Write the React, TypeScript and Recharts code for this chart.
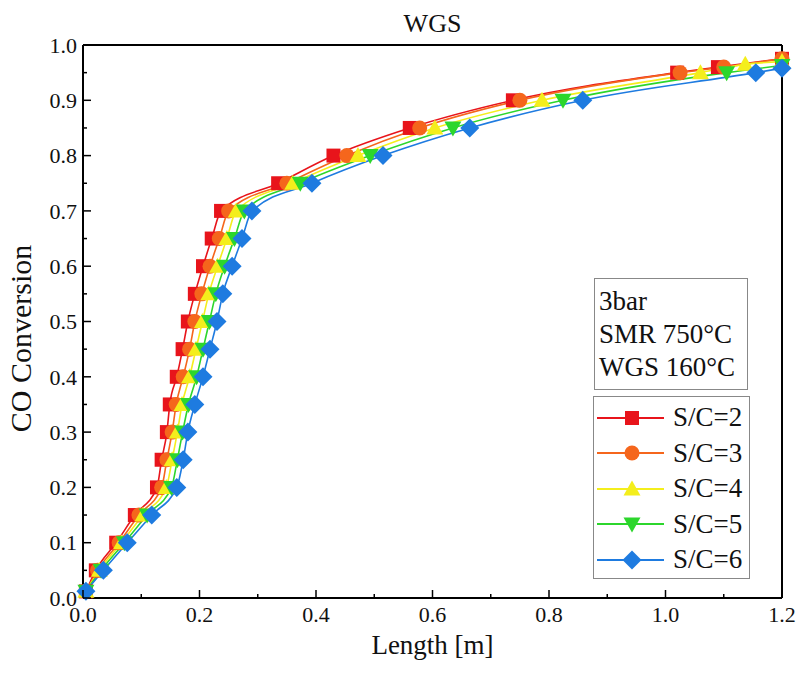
import React from 'react';
import { LineChart, Line, XAxis, YAxis } from 'recharts';

// CO conversion vs reactor length
const SC2 = [
  { x: 0.005, y: 0.012 }, { x: 0.022, y: 0.05 }, { x: 0.057, y: 0.1 }, { x: 0.089, y: 0.15 },
  { x: 0.127, y: 0.2 }, { x: 0.135, y: 0.25 }, { x: 0.144, y: 0.3 }, { x: 0.149, y: 0.35 },
  { x: 0.161, y: 0.4 }, { x: 0.171, y: 0.45 }, { x: 0.18, y: 0.5 }, { x: 0.192, y: 0.55 },
  { x: 0.206, y: 0.6 }, { x: 0.221, y: 0.65 }, { x: 0.237, y: 0.7 }, { x: 0.335, y: 0.75 },
  { x: 0.43, y: 0.8 }, { x: 0.561, y: 0.85 }, { x: 0.738, y: 0.9 }, { x: 1.02, y: 0.95 },
  { x: 1.09, y: 0.96 }, { x: 1.2, y: 0.975 },
];
const SC3 = [
  { x: 0.005, y: 0.012 }, { x: 0.025, y: 0.05 }, { x: 0.062, y: 0.1 }, { x: 0.096, y: 0.15 },
  { x: 0.135, y: 0.2 }, { x: 0.144, y: 0.25 }, { x: 0.153, y: 0.3 }, { x: 0.16, y: 0.35 },
  { x: 0.172, y: 0.4 }, { x: 0.183, y: 0.45 }, { x: 0.192, y: 0.5 }, { x: 0.204, y: 0.55 },
  { x: 0.218, y: 0.6 }, { x: 0.234, y: 0.65 }, { x: 0.25, y: 0.7 }, { x: 0.35, y: 0.75 },
  { x: 0.453, y: 0.8 }, { x: 0.578, y: 0.85 }, { x: 0.75, y: 0.9 }, { x: 1.025, y: 0.95 },
  { x: 1.1, y: 0.96 }, { x: 1.2, y: 0.975 },
];
const SC4 = [
  { x: 0.005, y: 0.012 }, { x: 0.028, y: 0.05 }, { x: 0.066, y: 0.1 }, { x: 0.103, y: 0.15 },
  { x: 0.143, y: 0.2 }, { x: 0.153, y: 0.25 }, { x: 0.162, y: 0.3 }, { x: 0.17, y: 0.35 },
  { x: 0.183, y: 0.4 }, { x: 0.194, y: 0.45 }, { x: 0.205, y: 0.5 }, { x: 0.216, y: 0.55 },
  { x: 0.231, y: 0.6 }, { x: 0.247, y: 0.65 }, { x: 0.263, y: 0.7 }, { x: 0.36, y: 0.75 },
  { x: 0.472, y: 0.8 }, { x: 0.604, y: 0.85 }, { x: 0.788, y: 0.9 }, { x: 1.06, y: 0.95 },
  { x: 1.137, y: 0.965 }, { x: 1.2, y: 0.97 },
];
const SC5 = [
  { x: 0.005, y: 0.012 }, { x: 0.031, y: 0.05 }, { x: 0.071, y: 0.1 }, { x: 0.11, y: 0.15 },
  { x: 0.152, y: 0.2 }, { x: 0.162, y: 0.25 }, { x: 0.171, y: 0.3 }, { x: 0.181, y: 0.35 },
  { x: 0.195, y: 0.4 }, { x: 0.206, y: 0.45 }, { x: 0.217, y: 0.5 }, { x: 0.228, y: 0.55 },
  { x: 0.243, y: 0.6 }, { x: 0.26, y: 0.65 }, { x: 0.277, y: 0.7 }, { x: 0.373, y: 0.75 },
  { x: 0.493, y: 0.8 }, { x: 0.635, y: 0.85 }, { x: 0.824, y: 0.9 }, { x: 1.105, y: 0.95 },
  { x: 1.2, y: 0.963 },
];
const SC6 = [
  { x: 0.005, y: 0.012 }, { x: 0.035, y: 0.05 }, { x: 0.076, y: 0.1 }, { x: 0.118, y: 0.15 },
  { x: 0.161, y: 0.2 }, { x: 0.172, y: 0.25 }, { x: 0.18, y: 0.3 }, { x: 0.192, y: 0.35 },
  { x: 0.206, y: 0.4 }, { x: 0.218, y: 0.45 }, { x: 0.23, y: 0.5 }, { x: 0.24, y: 0.55 },
  { x: 0.256, y: 0.6 }, { x: 0.273, y: 0.65 }, { x: 0.29, y: 0.7 }, { x: 0.393, y: 0.75 },
  { x: 0.515, y: 0.8 }, { x: 0.664, y: 0.85 }, { x: 0.858, y: 0.9 }, { x: 1.155, y: 0.95 },
  { x: 1.2, y: 0.958 },
];

const X_TICKS = [0, 0.1, 0.2, 0.3, 0.4, 0.5, 0.6, 0.7, 0.8, 0.9, 1.0, 1.1, 1.2];
const Y_TICKS = [
  0, 0.05, 0.1, 0.15, 0.2, 0.25, 0.3, 0.35, 0.4, 0.45, 0.5,
  0.55, 0.6, 0.65, 0.7, 0.75, 0.8, 0.85, 0.9, 0.95, 1.0,
];
const CONDITIONS = ['3bar', 'SMR 750°C', 'WGS 160°C'];

const SERIES = [
  { name: 'S/C=2', data: SC2, color: '#e8141b', shape: 'square' },
  { name: 'S/C=3', data: SC3, color: '#f5661c', shape: 'circle' },
  { name: 'S/C=4', data: SC4, color: '#f4ee1c', shape: 'triangle' },
  { name: 'S/C=5', data: SC5, color: '#2cd62c', shape: 'triangleDown' },
  { name: 'S/C=6', data: SC6, color: '#1e7be0', shape: 'diamond' },
];

const FONT = "'Liberation Serif', 'Times New Roman', serif";

const Marker = ({ cx, cy, shape, color }: any) => {
  if (cx == null || cy == null) return null;
  switch (shape) {
    case 'square':
      return <rect x={cx - 7} y={cy - 7} width={14} height={14} fill={color} />;
    case 'circle':
      return <circle cx={cx} cy={cy} r={7.5} fill={color} />;
    case 'triangle':
      return <polygon points={`${cx},${cy - 8.5} ${cx + 8.5},${cy + 6.5} ${cx - 8.5},${cy + 6.5}`} fill={color} />;
    case 'triangleDown':
      return <polygon points={`${cx},${cy + 8.5} ${cx + 8.5},${cy - 6.5} ${cx - 8.5},${cy - 6.5}`} fill={color} />;
    default:
      return <polygon points={`${cx},${cy - 9.5} ${cx + 9.5},${cy} ${cx},${cy + 9.5} ${cx - 9.5},${cy}`} fill={color} />;
  }
};

const isMajorX = (v: number) => Math.round(v * 10) % 2 === 0;
const isMajorY = (v: number) => Math.round(v * 100) % 10 === 0;

const BottomTick = ({ x, y, payload }: any) => {
  const major = isMajorX(payload.value);
  return (
    <g>
      <line x1={x} y1={y} x2={x} y2={y - (major ? 8 : 4)} stroke="#000" strokeWidth={1.5} />
      {major && (
        <text x={x} y={y + 24} textAnchor="middle" style={{ fontFamily: FONT }} fontSize={22} fill="#111">
          {payload.value.toFixed(1)}
        </text>
      )}
    </g>
  );
};

const TopTick = ({ x, y, payload }: any) => {
  const major = isMajorX(payload.value);
  return <line x1={x} y1={y} x2={x} y2={y + (major ? 8 : 4)} stroke="#000" strokeWidth={1.5} />;
};

const LeftTick = ({ x, y, payload }: any) => {
  const major = isMajorY(payload.value);
  return (
    <g>
      <line x1={x} y1={y} x2={x + (major ? 8 : 4)} y2={y} stroke="#000" strokeWidth={1.5} />
      {major && (
        <text x={x - 6} y={y} dy="0.35em" textAnchor="end" style={{ fontFamily: FONT }} fontSize={22} fill="#111">
          {payload.value.toFixed(1)}
        </text>
      )}
    </g>
  );
};

const RightTick = ({ x, y, payload }: any) => {
  const major = isMajorY(payload.value);
  return <line x1={x} y1={y} x2={x - (major ? 8 : 4)} y2={y} stroke="#000" strokeWidth={1.5} />;
};

const LegendBoxes = () => (
  <div style={{ position: 'absolute', left: 593, top: 278, width: 157, fontFamily: FONT, fontSize: 27, color: '#111' }}>
    <div
      style={{
        border: '1.5px solid #888',
        width: 154,
        height: 112,
        marginLeft: 1,
        padding: '6px 0 0 4px',
        boxSizing: 'border-box',
        lineHeight: '33px',
      }}
    >
      {CONDITIONS.map((c) => (
        <div key={c} style={{ whiteSpace: 'nowrap' }}>{c}</div>
      ))}
    </div>
    <div
      style={{
        border: '1.5px solid #888',
        width: 157,
        height: 183,
        marginTop: 6,
        padding: '3px 0 0 0',
        boxSizing: 'border-box',
      }}
    >
      {SERIES.map((s) => (
        <div key={s.name} style={{ display: 'flex', alignItems: 'center', height: 35.5 }}>
          <svg width={76} height={24} style={{ marginLeft: 3 }}>
            <line x1={0} y1={12} x2={67} y2={12} stroke={s.color} strokeWidth={1.8} />
            <Marker cx={35} cy={12} shape={s.shape} color={s.color} />
          </svg>
          <span style={{ whiteSpace: 'nowrap' }}>{s.name}</span>
        </div>
      ))}
    </div>
  </div>
);

export default function App() {
  return (
    <div style={{ position: 'absolute', left: 0, top: 0, width: 800, height: 686, background: '#fff' }}>
      <div
        style={{
          position: 'absolute',
          left: 83,
          width: 699,
          top: 9,
          textAlign: 'center',
          fontFamily: FONT,
          fontSize: 26,
          color: '#111',
        }}
      >
        WGS
      </div>
      <LineChart width={800} height={686} margin={{ top: 44, right: 17, bottom: 28, left: 23 }}>
        <XAxis
          xAxisId="bottom"
          dataKey="x"
          type="number"
          domain={[0, 1.2]}
          ticks={X_TICKS}
          interval={0}
          height={60}
          tickSize={0}
          tickMargin={0}
          tickLine={false}
          axisLine={{ stroke: '#000', strokeWidth: 2 }}
          tick={<BottomTick />}
          label={(p: any) => {
            const vb = p.viewBox;
            return (
              <text x={vb.x + vb.width / 2} y={vb.y + 56} textAnchor="middle" style={{ fontFamily: FONT }} fontSize={27} fill="#111">
                Length [m]
              </text>
            );
          }}
        />
        <XAxis
          xAxisId="top"
          orientation="top"
          dataKey="x"
          type="number"
          domain={[0, 1.2]}
          ticks={X_TICKS}
          interval={0}
          height={1}
          tickSize={0}
          tickMargin={0}
          tickLine={false}
          axisLine={{ stroke: '#000', strokeWidth: 2 }}
          tick={<TopTick />}
        />
        <YAxis
          yAxisId="left"
          type="number"
          domain={[0, 1]}
          ticks={Y_TICKS}
          interval={0}
          width={60}
          tickSize={0}
          tickMargin={0}
          tickLine={false}
          axisLine={{ stroke: '#000', strokeWidth: 2 }}
          tick={<LeftTick />}
          label={(p: any) => {
            const vb = p.viewBox;
            const cx = vb.x + 8;
            const cy = vb.y + vb.height / 2 + 17;
            return (
              <text x={cx} y={cy} transform={`rotate(-90 ${cx} ${cy})`} textAnchor="middle" style={{ fontFamily: FONT }} fontSize={30} fill="#111">
                CO Conversion
              </text>
            );
          }}
        />
        <YAxis
          yAxisId="right"
          orientation="right"
          type="number"
          domain={[0, 1]}
          ticks={Y_TICKS}
          interval={0}
          width={1}
          tickSize={0}
          tickMargin={0}
          tickLine={false}
          axisLine={{ stroke: '#000', strokeWidth: 2 }}
          tick={<RightTick />}
        />
        {SERIES.map((s) => (
          <Line
            key={s.name}
            name={s.name}
            data={s.data}
            dataKey="y"
            xAxisId="bottom"
            yAxisId="left"
            type="monotone"
            stroke={s.color}
            strokeWidth={1.6}
            dot={(p: any) => <Marker key={`${s.name}-${p.index}`} cx={p.cx} cy={p.cy} shape={s.shape} color={s.color} />}
            activeDot={false}
            isAnimationActive={false}
          />
        ))}
      </LineChart>
      <LegendBoxes />
    </div>
  );
}
